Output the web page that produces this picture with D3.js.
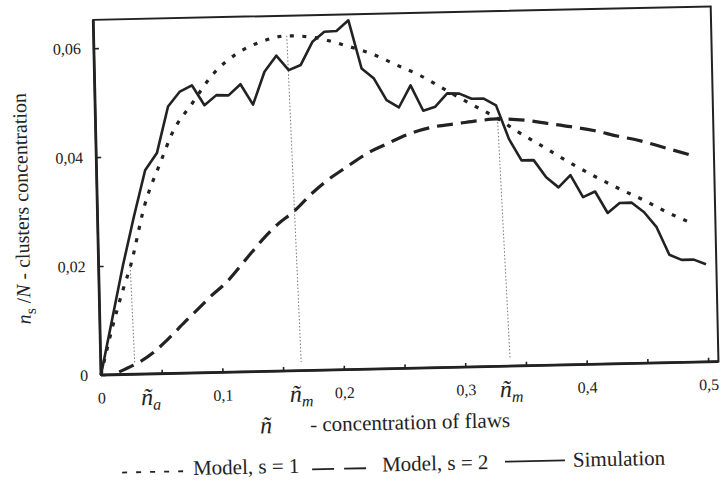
<!DOCTYPE html>
<html>
<head>
<meta charset="utf-8">
<script src="https://cdnjs.cloudflare.com/ajax/libs/d3/7.8.5/d3.min.js"></script>
<style>
body { margin: 0; background: #fff; }
svg { display: block; font-family: "Liberation Serif", "Times New Roman", serif; }
</style>
</head>
<body>
<svg id="chart" width="721" height="485"></svg>
<script>
// simulation, one point every 0.01
var simX = [0, 0.01, 0.02, 0.03, 0.04, 0.05, 0.06, 0.07, 0.08, 0.09,
    0.10, 0.11, 0.12, 0.13, 0.14, 0.15, 0.16, 0.17, 0.18, 0.19,
    0.20, 0.21, 0.22, 0.23, 0.24, 0.25, 0.26, 0.27, 0.28, 0.29,
    0.30, 0.31, 0.32, 0.33, 0.34, 0.35, 0.36, 0.37, 0.38, 0.39,
    0.40, 0.41, 0.42, 0.43, 0.44, 0.45, 0.46, 0.47, 0.48, 0.49, 0.50];
var simY = [0, 0.010, 0.020, 0.029, 0.0374, 0.0405, 0.049, 0.0517, 0.0528, 0.0491,
    0.0509, 0.0508, 0.0528, 0.049, 0.055, 0.0579, 0.0552, 0.0561, 0.0603, 0.0621,
    0.0622, 0.0641, 0.0552, 0.0533, 0.0493, 0.0479, 0.0519, 0.0472, 0.0479, 0.0503,
    0.0502, 0.0492, 0.0492, 0.0479, 0.0417, 0.0377, 0.0377, 0.0345, 0.0326, 0.0348,
    0.0307, 0.0317, 0.0277, 0.0295, 0.0295, 0.0277, 0.0249, 0.0198, 0.0188, 0.0188, 0.0179];

// model, s = 1 (dotted)
var m1X = [0, 0.01, 0.02, 0.026, 0.039, 0.053, 0.063, 0.08, 0.097, 0.118, 0.139, 0.159, 0.181, 0.207,
    0.228, 0.249, 0.268, 0.289, 0.309, 0.331, 0.348, 0.369, 0.389, 0.409, 0.43, 0.45, 0.469, 0.49];
var m1Y = [0, 0.0085, 0.0158, 0.0197, 0.031, 0.0389, 0.0441, 0.0495, 0.0546, 0.0585, 0.0606, 0.0615, 0.0611, 0.0595,
    0.0579, 0.0557, 0.0537, 0.0509, 0.0483, 0.0455, 0.0429, 0.04, 0.0372, 0.0346, 0.0321, 0.0299, 0.0276, 0.0254];

// model, s = 2 (dashed)
var m2X = [0.015, 0.0435, 0.0548, 0.070, 0.0814, 0.0913, 0.1053, 0.1208, 0.135, 0.1489, 0.1615, 0.177, 0.1867,
    0.206, 0.223, 0.2397, 0.259, 0.2784, 0.2977, 0.317, 0.3307, 0.3554, 0.3718, 0.391, 0.41, 0.429, 0.4484, 0.4675, 0.4907];
var m2Y = [0.0005, 0.0039, 0.0061, 0.0094, 0.0118, 0.0139, 0.0166, 0.0205, 0.0241, 0.0271, 0.0292, 0.0325, 0.0343,
    0.0372, 0.0396, 0.0413, 0.0431, 0.0442, 0.0447, 0.0452, 0.0454, 0.045, 0.0444, 0.0437, 0.0429, 0.0418, 0.0408, 0.0395, 0.0379];

// thin dotted guide lines down to the axis
var markTopX = [0.026, 0.159, 0.331];
var markTopY = [0.0198, 0.0615, 0.0455];
var markBotX = [0.028, 0.165, 0.337];
var markBotY = [0.002, 0.0016, 0.0014];
var markLabelX = [0.0326, 0.155, 0.328];
var markLabelSub = ["a", "m", "m"];

var xTickValues = [0, 0.05, 0.1, 0.15, 0.2, 0.25, 0.3, 0.35, 0.4, 0.45, 0.5];
var xTickLabels = ["0", "", "0,1", "", "0,2", "", "0,3", "", "0,4", "", "0,5"];
var yTickValues = [0, 0.02, 0.04, 0.06];
var yTickLabels = ["0", "0,02", "0,04", "0,06"];

var ink = "#222";
var x = d3.scaleLinear().domain([0, 0.5085]).range([101, 718.6]);
var y = d3.scaleLinear().domain([0, 0.0652]).range([375, 19.8]);

var svg = d3.select("#chart");
svg.append("rect").attr("width", 721).attr("height", 485).attr("fill", "#fff");
// the scan is slightly tilted
var g = svg.append("g").attr("transform", "rotate(-1.25,101,375)");

g.append("rect")
    .attr("x", x(0)).attr("y", y(0.0652))
    .attr("width", x(0.5085) - x(0)).attr("height", y(0) - y(0.0652))
    .attr("fill", "none").attr("stroke", ink).attr("stroke-width", 2);

var xAxis = d3.axisBottom(x).tickValues(xTickValues).tickSizeInner(-4).tickSizeOuter(0).tickPadding(17)
    .tickFormat(function (d, i) { return xTickLabels[i]; });
var yAxis = d3.axisLeft(y).tickValues(yTickValues).tickSizeInner(-5).tickSizeOuter(0).tickPadding(13)
    .tickFormat(function (d, i) { return yTickLabels[i]; });

var gx = g.append("g").attr("transform", "translate(0," + y(0) + ")").call(xAxis);
var gy = g.append("g").attr("transform", "translate(" + x(0) + ",0)").call(yAxis);
[gx, gy].forEach(function (a) {
    a.select(".domain").remove();
    a.selectAll(".tick line").attr("stroke", ink).attr("stroke-width", 1.6);
    a.selectAll(".tick text").attr("fill", ink).style("font-size", "16px")
        .style("font-family", "'Liberation Serif', serif");
});

g.append("line").attr("x1", x(0)).attr("x2", x(0.5085)).attr("y1", y(0)).attr("y2", y(0))
    .attr("stroke", ink).attr("stroke-width", 2.8);
g.append("line").attr("x1", x(0)).attr("x2", x(0)).attr("y1", y(0)).attr("y2", y(0.0652))
    .attr("stroke", ink).attr("stroke-width", 2.8);

// guides
for (var i = 0; i < markTopX.length; i++) {
    g.append("line")
        .attr("x1", x(markTopX[i])).attr("y1", y(markTopY[i]))
        .attr("x2", x(markBotX[i])).attr("y2", y(markBotY[i]))
        .attr("stroke", "#777").attr("stroke-width", 1).attr("stroke-dasharray", "1.5,2");
    var t = g.append("text").attr("x", x(markLabelX[i])).attr("y", y(0) + 31).attr("fill", ink);
    t.append("tspan").style("font-style", "italic").style("font-size", "24px").text("ñ");
    t.append("tspan").style("font-style", "italic").style("font-size", "16px").attr("dy", 5).text(markLabelSub[i]);
}

var smooth = d3.line().x(function (d) { return x(d[0]); }).y(function (d) { return y(d[1]); }).curve(d3.curveMonotoneX);
var straight = d3.line().x(function (d) { return x(d[0]); }).y(function (d) { return y(d[1]); });

g.append("path").datum(d3.zip(m2X, m2Y)).attr("d", smooth)
    .attr("fill", "none").attr("stroke", ink).attr("stroke-width", 3.2).attr("stroke-dasharray", "16,8");
g.append("path").datum(d3.zip(m1X, m1Y)).attr("d", smooth)
    .attr("fill", "none").attr("stroke", ink).attr("stroke-width", 3.2).attr("stroke-dasharray", "4,8.5");
g.append("path").datum(d3.zip(simX, simY)).attr("d", straight)
    .attr("fill", "none").attr("stroke", ink).attr("stroke-width", 2.6).attr("stroke-linejoin", "round");

// axis titles
var yt = g.append("text").attr("transform", "translate(32,207) rotate(-90)")
    .attr("text-anchor", "middle").attr("fill", ink).style("font-size", "20px");
yt.append("tspan").style("font-style", "italic").text("n");
yt.append("tspan").attr("dy", 5).style("font-size", "15px").text("s");
yt.append("tspan").attr("dy", -5).text(" /");
yt.append("tspan").style("font-style", "italic").text("N");
yt.append("tspan").text(" - clusters concentration");

g.append("text").attr("x", 259).attr("y", 437).attr("fill", ink)
    .style("font-style", "italic").style("font-size", "24px").text("ñ");
g.append("text").attr("x", 309).attr("y", 436).attr("fill", ink)
    .style("font-size", "21px").text("- concentration of flaws");

// legend
var legend = g.append("g").attr("fill", ink).style("font-size", "21px");
legend.append("line").attr("x1", 120).attr("x2", 190).attr("y1", 473).attr("y2", 473)
    .attr("stroke", ink).attr("stroke-width", 1.8).attr("stroke-dasharray", "5,9");
legend.append("text").attr("x", 191).attr("y", 477).text("Model, s = 1");
legend.append("line").attr("x1", 310).attr("x2", 372).attr("y1", 474).attr("y2", 474)
    .attr("stroke", ink).attr("stroke-width", 1.8).attr("stroke-dasharray", "22,10");
legend.append("text").attr("x", 380).attr("y", 477.5).text("Model, s = 2");
legend.append("line").attr("x1", 503).attr("x2", 563).attr("y1", 470.5).attr("y2", 470.5)
    .attr("stroke", ink).attr("stroke-width", 1.8);
legend.append("text").attr("x", 571).attr("y", 477).text("Simulation");
</script>
</body>
</html>
